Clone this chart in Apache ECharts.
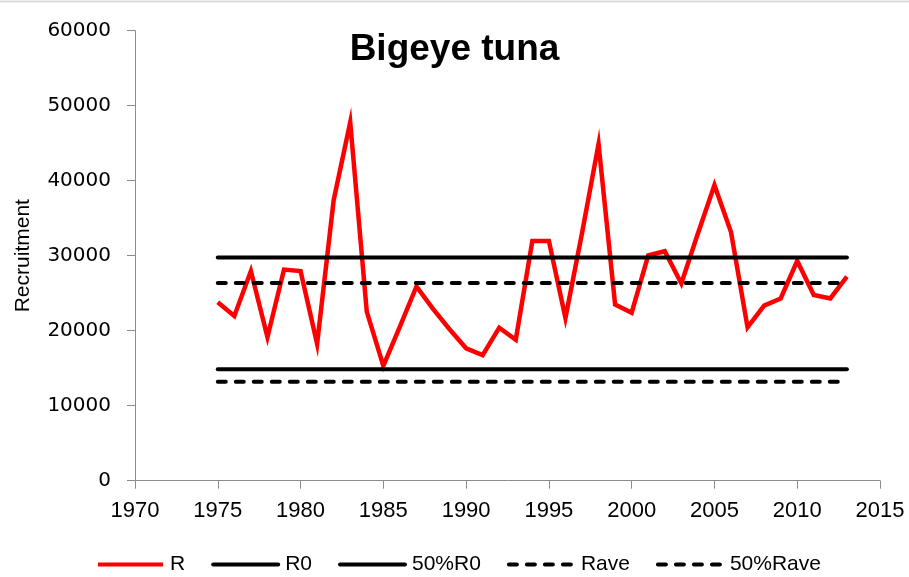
<!DOCTYPE html>
<html>
<head>
<meta charset="utf-8">
<script src="https://cdn.jsdelivr.net/npm/echarts@6/dist/echarts.min.js"></script>
<style>
html,body{margin:0;padding:0;background:#fff;}
#chart{width:909px;height:577px;}
</style>
</head>
<body>
<div id="chart"></div>
<script>
const years = [1975,1976,1977,1978,1979,1980,1981,1982,1983,1984,1985,1986,1987,1988,1989,1990,1991,1992,1993,1994,1995,1996,1997,1998,1999,2000,2001,2002,2003,2004,2005,2006,2007,2008,2009,2010,2011,2012,2013];
const R = [23800,21950,27950,19150,28150,27950,18250,37400,47800,22550,15300,20550,25900,22900,20200,17650,16750,20400,18800,31950,31950,21700,33000,44900,23500,22400,30050,30600,26300,32950,39400,33150,20450,23350,24300,29300,24750,24300,27200];
const R0 = 29750;
const R0_50 = 14850;
const Rave = 26350;
const Rave_50 = 13200;
const xTicks = {min:1970, max:2015, interval:5};
const yTicks = {min:0, max:60000, interval:10000};

const pairs = (vals) => years.map((y,i)=>[y, vals[i]]);
const flat = (v) => [[years[0], v],[years[years.length-1], v]];

const sans = "'Liberation Sans', Arial, sans-serif";
const chart = echarts.init(document.getElementById('chart'), null, {renderer:'canvas'});
const axisGray = '#8c8c8c';
chart.setOption({
  animation:false,
  backgroundColor:'#fff',
  title:{
    text:'Bigeye tuna', left:'center', top:26,
    textStyle:{fontFamily:sans, fontWeight:'bold', fontSize:37, color:'#000'}
  },
  grid:{left:135, right:29, top:30.7, bottom:96.3, containLabel:false},
  legend:{
    left:91, top:549, itemWidth:65, itemHeight:20, itemGap:26,
    itemStyle:{opacity:0},
    lineStyle:{width:4},
    textStyle:{fontFamily:sans, fontSize:21, color:'#000', padding:[0,0,0,2]},
    data:['R','R0','50%R0','Rave','50%Rave']
  },
  xAxis:{
    type:'value', min:xTicks.min, max:xTicks.max, interval:xTicks.interval,
    axisLine:{onZero:false, lineStyle:{color:axisGray, width:1}},
    axisTick:{show:true, length:8, lineStyle:{color:axisGray}},
    splitLine:{show:false},
    axisLabel:{margin:19, fontFamily:sans, fontSize:22, color:'#000', formatter:v=>String(v)}
  },
  yAxis:{
    type:'value', min:yTicks.min, max:yTicks.max, interval:yTicks.interval,
    name:'Recruitment', nameLocation:'middle', nameGap:101, nameRotate:90,
    nameTextStyle:{fontFamily:sans, fontSize:21, color:'#000'},
    axisLine:{show:true, lineStyle:{color:axisGray, width:1}},
    axisTick:{show:true, length:8, lineStyle:{color:axisGray}},
    splitLine:{show:false},
    axisLabel:{margin:24, fontFamily:"'DejaVu Sans', sans-serif", fontSize:20, color:'#000', formatter:v=>String(v)}
  },
  series:[
    {name:'R', type:'line', data:pairs(R), symbol:'none', z:3,
     lineStyle:{color:'#ff0000', width:4.5, join:'miter'}, itemStyle:{color:'#ff0000'}},
    {name:'R0', type:'line', data:flat(R0), symbol:'none',
     lineStyle:{color:'#000', width:4, cap:'round'}, itemStyle:{color:'#000'}},
    {name:'50%R0', type:'line', data:flat(R0_50), symbol:'none',
     lineStyle:{color:'#000', width:4, cap:'round'}, itemStyle:{color:'#000'}},
    {name:'Rave', type:'line', data:flat(Rave), symbol:'none',
     lineStyle:{color:'#000', width:4, type:[8,10], cap:'round'}, itemStyle:{color:'#000'}},
    {name:'50%Rave', type:'line', data:flat(Rave_50), symbol:'none',
     lineStyle:{color:'#000', width:4, type:[8,10], cap:'round'}, itemStyle:{color:'#000'}}
  ],
  graphic:[{type:'line', shape:{x1:0,y1:1.5,x2:909,y2:1.5}, style:{stroke:'#d9d9d9', lineWidth:2}, silent:true}]
});
</script>
</body>
</html>
